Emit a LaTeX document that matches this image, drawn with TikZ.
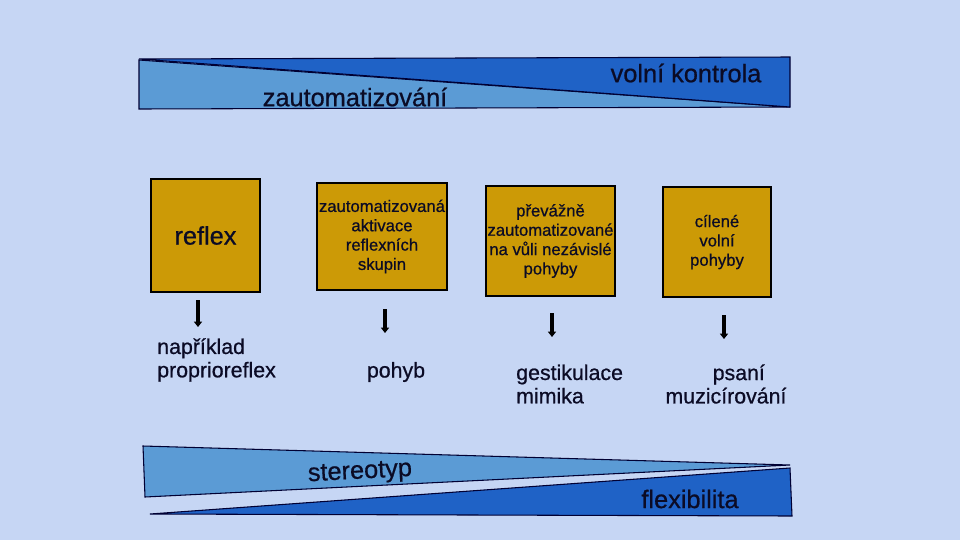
\documentclass[tikz,border=0pt]{standalone}
\usepackage{fontspec}
\setmainfont{Liberation Sans}
\newfontfamily\heavyfont{Liberation Sans}[FakeBold=0.7]
\usepackage{xcolor}
\usepackage{tikz}
\usetikzlibrary{arrows.meta, positioning}
\definecolor{bgblue}{HTML}{C6D6F4}
\definecolor{lightbar}{HTML}{5B9BD5}
\definecolor{darkbar}{HTML}{1F62C6}
\definecolor{gold}{HTML}{CC9A06}
\definecolor{ink}{HTML}{0B0B25}
\tikzset{
  box/.style={rectangle, draw=black, line width=1.5pt, fill=gold, inner sep=0pt, align=center, text=ink, font=\heavyfont\fontsize{12.5}{14.5}\selectfont},
  bartext/.style={text=ink, font=\heavyfont\fontsize{19}{22}\selectfont},
  example/.style={text=ink, inner sep=0pt, font=\heavyfont\fontsize{16}{17.5}\selectfont},
  bar/.style={draw=black!80!blue, line width=0.8pt},
  arrow/.style={-{Triangle[length=4pt, width=6pt]}, line width=2.6pt, black},
}

\begin{document}
\begin{tikzpicture}[x=0.75pt, y=-0.75pt]
    \fill[bgblue] (0,0) rectangle (960,540);
    \useasboundingbox (0,0) rectangle (960,540);

    % top wedge
    \filldraw[bar, fill=lightbar] (139,60) -- (139,109) -- (790,107) -- cycle;
    \filldraw[bar, fill=darkbar] (139,59) -- (790,57) -- (790,107) -- cycle;
    \node[bartext] (auto) at (355,97) {zautomatizování};
    \node[bartext] (volni) at (686,73) {volní kontrola};

    % bottom wedge
    \filldraw[bar, fill=lightbar] (143,446) -- (790,465) -- (145,497) -- cycle;
    \filldraw[bar, fill=darkbar] (150,514) -- (790,468) -- (792,516) -- cycle;
    \node[bartext, rotate=3] (stereo) at (360,473) {stereotyp};
    \node[bartext] (flex) at (690,499) {flexibilita};

    % boxes
    \node[box, minimum width=81.75pt, minimum height=84.75pt, font=\heavyfont\fontsize{19}{22}\selectfont] (reflex) at (205.5,235.5) {reflex};
    \node[box, minimum width=97.5pt, minimum height=80.25pt] (aktivace) at (382,236.5) {zautomatizovaná\\aktivace\\reflexních\\skupin};
    \node[box, minimum width=96.75pt, minimum height=82.5pt] (prevazne) at (550.5,241) {převážně\\zautomatizované\\na vůli nezávislé\\pohyby};
    \node[box, minimum width=81pt, minimum height=82.5pt] (cilene) at (717,242) {cílené\\volní\\pohyby};

    % examples
    \node[example, anchor=west, align=left] (priklad) at (157,360) {například\\proprioreflex};
    \node[example] (pohyb) at (396,372) {pohyb};
    \node[example, anchor=west, align=left] (gesta) at (516,384) {gestikulace\\mimika};
    \node[example, align=center] (psani) at (726,384) {\hspace*{1.2em}psaní\\muzicírování};

    % arrows
    \coordinate (r1) at (198,300);  \coordinate (r2) at (198,327);
    \coordinate (a1) at (385,309);  \coordinate (a2) at (385,333);
    \coordinate (p1) at (552,313);  \coordinate (p2) at (552,337);
    \coordinate (c1) at (724,315);  \coordinate (c2) at (724,339);
    \draw[arrow] (r1) -- (r2);
    \draw[arrow] (a1) -- (a2);
    \draw[arrow] (p1) -- (p2);
    \draw[arrow] (c1) -- (c2);
\end{tikzpicture}
\end{document}
